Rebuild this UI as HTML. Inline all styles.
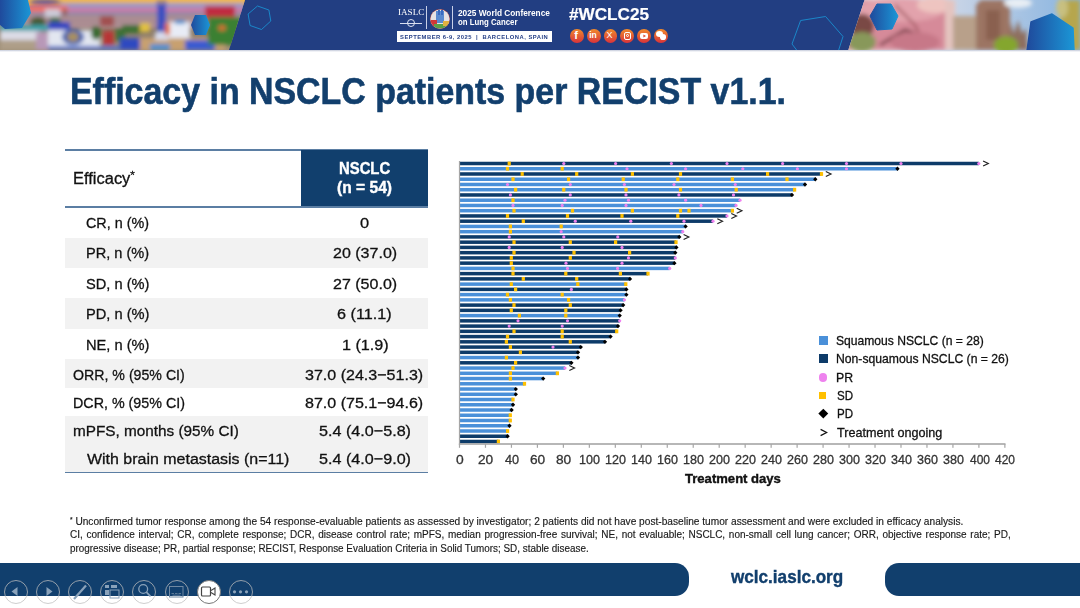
<!DOCTYPE html>
<html><head><meta charset="utf-8">
<style>
*{margin:0;padding:0;box-sizing:border-box}
html,body{width:1080px;height:608px;overflow:hidden;background:#fff}
body{position:relative;font-family:"Liberation Sans",sans-serif;color:#222}
.a{position:absolute;white-space:nowrap}
#hdr{position:absolute;left:0;top:0;width:1080px;height:50px;background:#223e82;overflow:hidden}
.title{left:72px;top:73.5px;font-size:36px;line-height:36px;font-weight:bold;color:#123f6d}
.tt{font-size:15px;line-height:15px;color:#222}
.band{position:absolute;left:65px;width:363px;background:#f2f2f2}
.hl{position:absolute;left:65px;width:363px;height:1.6px;background:#5b7ea3}
.val{width:140px;text-align:center;left:294.5px}
.leg{font-size:12.6px;line-height:12.6px;color:#222}
.ax{font-size:12.6px;line-height:12.6px;color:#333;width:40px;text-align:center}
.fn{font-size:9.8px;line-height:9.8px;color:#222}
</style></head><body>
<div id="hdr">
  <!-- left photo -->
  <svg style="position:absolute;left:0;top:0" width="1080" height="50">
   <defs>
    <clipPath id="cl"><polygon points="0,0 245,0 229,50 0,50"/></clipPath>
    <clipPath id="cr"><polygon points="864.5,0 1080,0 1080,50 848.3,50"/></clipPath>
    <filter id="bl" x="-5%" y="-20%" width="110%" height="140%"><feGaussianBlur stdDeviation="2.2"/></filter>
    <linearGradient id="hx" x1="0" x2="1" y1="0" y2="0"><stop offset="0" stop-color="#1f4a9c"/><stop offset="1" stop-color="#1b96d6"/></linearGradient>
    <linearGradient id="sky1" x1="0" x2="0" y1="0" y2="1"><stop offset="0" stop-color="#f2bb3e"/><stop offset="0.09" stop-color="#eeaa48"/><stop offset="0.14" stop-color="#8f80b4"/><stop offset="0.2" stop-color="#9c86b6"/><stop offset="0.24" stop-color="#e6708c"/><stop offset="0.27" stop-color="#d87898"/><stop offset="0.29" stop-color="#7d98c0"/><stop offset="0.32" stop-color="#b09aa4"/><stop offset="0.5" stop-color="#ae8e90"/><stop offset="0.62" stop-color="#8a7a68"/><stop offset="1" stop-color="#a09078"/></linearGradient>
    <linearGradient id="sky2" x1="0" x2="1" y1="0" y2="0"><stop offset="0" stop-color="#f0e6e0"/><stop offset="0.35" stop-color="#d8dce8"/><stop offset="1" stop-color="#88b4e0"/></linearGradient>
   </defs>
   <g clip-path="url(#cl)">
    <rect x="0" y="0" width="250" height="50" fill="url(#sky1)"/>
    <g filter="url(#bl)">
     <rect x="25" y="0" width="220" height="4" fill="#f2b850"/>
     <ellipse cx="45" cy="2" rx="16" ry="3" fill="#6a5a98"/>
     <rect x="60" y="3" width="185" height="6" fill="#9496c6"/>
     <rect x="28" y="6" width="40" height="6" fill="#f27060"/>
     <rect x="68" y="8" width="177" height="5" fill="#d478a0"/>
     <rect x="25" y="12" width="220" height="2.5" fill="#6888b8"/>
     <rect x="25" y="14" width="220" height="12" fill="#aa8c92"/>
     <rect x="45" y="9" width="15" height="8" fill="#cccad8"/>
     <rect x="63" y="9" width="4" height="7" fill="#906060"/>
     <rect x="100" y="16" width="14" height="10" fill="#a05050"/>
     <ellipse cx="38" cy="22" rx="8" ry="5" fill="#445a30"/>
     <ellipse cx="55" cy="21" rx="6" ry="4" fill="#3f6a34"/>
     <rect x="0" y="25" width="50" height="6" fill="#3aa0a8"/>
     <rect x="48" y="22" width="22" height="10" fill="#3444c0"/>
     <rect x="0" y="31" width="40" height="10" fill="#dcdce6"/>
     <rect x="0" y="40" width="36" height="10" fill="#ae9e88"/>
     <rect x="36" y="32" width="13" height="18" fill="#b898b8"/>
     <rect x="48" y="30" width="52" height="16" fill="#e2e6f0"/>
     <ellipse cx="73" cy="37" rx="11" ry="8" fill="#4060b0"/>
     <ellipse cx="73" cy="37" rx="6" ry="5" fill="#a89060"/>
     <rect x="48" y="46" width="80" height="4" fill="#5070c8"/>
     <ellipse cx="96" cy="33" rx="5" ry="7" fill="#3a6a30"/>
     <rect x="103" y="31" width="11" height="14" fill="#b83434"/>
     <rect x="115" y="29" width="10" height="12" fill="#3e7038"/>
     <rect x="122" y="25" width="20" height="8" fill="#3a7030"/>
     <rect x="140" y="23" width="10" height="9" fill="#e0c040"/>
     <rect x="120" y="38" width="22" height="12" fill="#2e48c0"/>
     <rect x="140" y="38" width="85" height="12" fill="#c8a070"/>
     <rect x="185" y="40" width="30" height="10" fill="#3a5ad0"/>
     <rect x="150" y="44" width="20" height="6" fill="#5090d0"/>
     <rect x="157" y="0" width="9" height="38" fill="#3a50c0"/>
     <rect x="159" y="0" width="5" height="4" fill="#b09060"/>
     <rect x="155" y="32" width="13" height="8" fill="#d8dcec"/>
     <rect x="168" y="22" width="22" height="16" fill="#e8ecf6"/>
     <rect x="175" y="20" width="10" height="4" fill="#4090d0"/>
     <rect x="165" y="23" width="5" height="12" fill="#e47030"/>
     <rect x="205" y="6" width="30" height="14" fill="#c02c40"/>
     <rect x="208" y="17" width="37" height="28" fill="#3a8030"/>
     <ellipse cx="222" cy="28" rx="4" ry="3" fill="#d07030"/>
    </g>
    <polygon points="0,0 28,0 31,13 22,28 5,29 0,25" fill="url(#hx)"/>
    <polygon points="195,15 206,15 210,25 206,35 195,35 191,25" fill="url(#hx)"/>
   </g>
   <polygon points="257.5,6 268.9,10 270.8,21 261.5,29.5 250.1,25.5 248.1,14" fill="none" stroke="#1a8fd0" stroke-width="0.9" stroke-linejoin="round"/>
   <polygon points="800.6,20.5 825.6,16.5 843,36.5 838.5,50.5 797,50.5 792,44" fill="none" stroke="#1a8fd0" stroke-width="0.9" stroke-linejoin="round"/>
      <g clip-path="url(#cr)">
    <rect x="840" y="0" width="240" height="50" fill="url(#sky2)"/>
    <g filter="url(#bl)">
     <rect x="840" y="0" width="108" height="50" fill="#d68a99"/>
     <ellipse cx="900" cy="10" rx="45" ry="12" fill="#e2a2ac"/>
     <ellipse cx="935" cy="5" rx="18" ry="8" fill="#eec4c0"/>
     <ellipse cx="862" cy="26" rx="12" ry="12" fill="#7a4a44"/>
     <ellipse cx="862" cy="42" rx="14" ry="10" fill="#88985a"/>
     <path d="M880 45 L905 30 L935 40" stroke="#7a4048" stroke-width="3" fill="none"/>
     <path d="M895 5 L915 25 L925 45" stroke="#9a5058" stroke-width="2" fill="none"/>
     <ellipse cx="915" cy="42" rx="25" ry="10" fill="#c77888"/>
     <rect x="945" y="0" width="10" height="50" fill="#e4c4c0"/>
     <rect x="953" y="16" width="24" height="34" fill="#b8a08a"/>
     <polygon points="976,50 976,5 981,0 1006,0 1010,8 1010,50" fill="#9c7464"/>
     <rect x="986" y="10" width="14" height="30" fill="#8a6050"/>
     <polygon points="1008,50 1011,22 1014,34 1018,20 1022,34 1026,28 1028,50" fill="#8e6e5e"/>
     <ellipse cx="1006" cy="45" rx="12" ry="9" fill="#84a62e"/>
     <ellipse cx="1018" cy="3" rx="14" ry="5" fill="#e8eef4"/>
     <rect x="1060" y="0" width="20" height="50" fill="#b6a64e"/>
     <ellipse cx="1062" cy="8" rx="6" ry="10" fill="#c8c080"/>
    </g>
    <polygon points="877,4 891,4 898,16 892,29 877,30 870,16" fill="url(#hx)" stroke="url(#hx)" stroke-width="1" stroke-linejoin="round"/>
    <polygon points="1031,22 1052,14 1073,28 1074,51 1027,51" fill="url(#hx)" stroke="url(#hx)" stroke-width="1.5" stroke-linejoin="round"/>
   </g>
  </svg>
  <!-- center logos -->
    <div style="position:absolute;left:426.3px;top:6px;width:1.2px;height:23px;background:#c8d0e8"></div>
  <svg style="position:absolute;left:429px;top:7.5px" width="22" height="22"><defs><clipPath id="cc"><circle cx="11" cy="11" r="9.6"/></clipPath></defs><circle cx="11" cy="11" r="10" fill="#b84a40"/><g clip-path="url(#cc)"><rect x="0" y="0" width="22" height="22" fill="#e6e2e4"/><rect x="7" y="3" width="8" height="12" fill="#5a8ad0"/><rect x="9" y="1" width="2" height="6" fill="#3a6ac0"/><rect x="12" y="2" width="2" height="5" fill="#3a6ac0"/><rect x="2" y="12" width="6" height="6" fill="#d03838"/><rect x="5" y="16" width="14" height="6" fill="#5aa048"/><rect x="14" y="13" width="6" height="5" fill="#e0b040"/></g></svg>
  <div style="position:absolute;left:452.3px;top:6px;width:1.2px;height:23px;background:#c8d0e8"></div>
  <div style="position:absolute;left:400px;top:22.5px;width:22px;height:1px;background:#d8dff0"></div>
  <div style="position:absolute;left:407px;top:19px;width:8px;height:8px;border-radius:50%;border:1px solid #e0e6f4"></div>
  <div style="position:absolute;left:397px;top:31.2px;width:155px;height:10.5px;background:#fff"></div>
<div class="a" style="left:397.69px;top:8.38px;font-family:'Liberation Serif',serif;font-size:9px;line-height:9px;font-weight:normal;color:#fff;transform-origin:0 0;transform:scaleX(1.0125);">IASLC</div>
<div class="a" style="left:457.50px;top:9.39px;font-family:'Liberation Sans',sans-serif;font-size:8.4px;line-height:8.4px;font-weight:bold;color:#fff;transform-origin:0 0;transform:scaleX(0.9882);">2025 World Conference</div>
<div class="a" style="left:457.50px;top:18.39px;font-family:'Liberation Sans',sans-serif;font-size:8.4px;line-height:8.4px;font-weight:bold;color:#fff;transform-origin:0 0;transform:scaleX(0.9328);">on Lung Cancer</div>
<div class="a" style="left:399.63px;top:33.62px;font-family:'Liberation Sans',sans-serif;font-size:6px;line-height:6px;font-weight:bold;color:#233e85;transform-origin:0 0;transform:scaleX(0.9735);letter-spacing:0.5px;">SEPTEMBER 6-9, 2025 &nbsp;|&nbsp; BARCELONA, SPAIN</div>
<div class="a" style="left:569.40px;top:6.85px;font-family:'Liberation Sans',sans-serif;font-size:16.6px;line-height:16.6px;font-weight:bold;color:#fff;transform-origin:0 0;transform:scaleX(1.0325);-webkit-text-stroke:0.2px #fff;">#WCLC25</div>
  <div style="position:absolute;left:570.0px;top:28.9px;width:13.8px;height:13.8px;border-radius:50%;background:linear-gradient(180deg,#f08a2c,#d8333a)"></div>
<div style="position:absolute;left:586.8px;top:28.9px;width:13.8px;height:13.8px;border-radius:50%;background:linear-gradient(180deg,#f08a2c,#d8333a)"></div>
<div style="position:absolute;left:603.6px;top:28.9px;width:13.8px;height:13.8px;border-radius:50%;background:linear-gradient(180deg,#f08a2c,#d8333a)"></div>
<div style="position:absolute;left:620.4px;top:28.9px;width:13.8px;height:13.8px;border-radius:50%;background:linear-gradient(180deg,#f08a2c,#d8333a)"></div>
<div style="position:absolute;left:637.2px;top:28.9px;width:13.8px;height:13.8px;border-radius:50%;background:linear-gradient(180deg,#f08a2c,#d8333a)"></div>
<div style="position:absolute;left:654.0px;top:28.9px;width:13.8px;height:13.8px;border-radius:50%;background:linear-gradient(180deg,#f08a2c,#d8333a)"></div>
<div class="a" style="left:574.3px;top:29.5px;font-size:11px;line-height:11px;font-weight:bold;color:#fff">f</div>
<div class="a" style="left:589.2px;top:31px;font-size:8.5px;line-height:8.5px;font-weight:bold;color:#fff">in</div>
<div class="a" style="left:606.6px;top:31px;font-size:9px;line-height:9px;color:#fff">X</div>
<div style="position:absolute;left:623.5px;top:32px;width:7.5px;height:7.5px;border:1.2px solid #fff;border-radius:2px"></div><div style="position:absolute;left:625.6px;top:34.1px;width:3.3px;height:3.3px;border:1px solid #fff;border-radius:50%"></div>
<div style="position:absolute;left:639.6px;top:32.6px;width:8.6px;height:6.2px;background:#fff;border-radius:2px"></div><svg style="position:absolute;left:639.6px;top:32.6px" width="9" height="7"><path d="M3.4 1.6L6 3.1L3.4 4.6z" fill="#e04a30"/></svg>
<div style="position:absolute;left:655.5px;top:31px;width:7px;height:6px;background:#fff;border-radius:50%"></div><div style="position:absolute;left:659.5px;top:34px;width:6.5px;height:5.5px;background:#fff;border-radius:50%"></div>
</div>

<div style="position:absolute;left:0;top:50px;width:1080px;height:2px;background:linear-gradient(180deg,rgba(40,60,120,0.28),rgba(40,60,120,0))"></div>
<div class="a" style="left:70.12px;top:73.73px;font-family:'Liberation Sans',sans-serif;font-size:36px;line-height:36px;font-weight:bold;color:#123f6d;transform-origin:0 0;transform:scaleX(0.9418);-webkit-text-stroke:0.6px #123f6d;">Efficacy in NSCLC patients per RECIST v1.1.</div>

<!-- table -->
<div class="hl" style="top:149.2px"></div>
<div style="position:absolute;left:301px;top:149.5px;width:127px;height:57.5px;background:#113f6d"></div>
<div class="hl" style="top:206.2px"></div>
<div class="band" style="top:237.5px;height:30.5px"></div>
<div class="band" style="top:298px;height:30.5px"></div>
<div class="band" style="top:359px;height:28.5px"></div>
<div class="band" style="top:416px;height:56px"></div>
<div class="hl" style="top:471.8px"></div>
<div class="a" style="left:72.94px;top:170.89px;font-family:'Liberation Sans',sans-serif;font-size:15.6px;line-height:15.6px;font-weight:normal;color:#111;transform-origin:0 0;transform:scaleX(1.0561);-webkit-text-stroke:0.3px #111;">Efficacy<span style="font-size:11px;position:relative;top:-5px">*</span></div>
<div class="a" style="left:339.07px;top:161.06px;font-family:'Liberation Sans',sans-serif;font-size:16px;line-height:16px;font-weight:bold;color:#fff;transform-origin:0 0;transform:scaleX(0.9283);-webkit-text-stroke:0.4px #fff;">NSCLC</div>
<div class="a" style="left:336.83px;top:179.56px;font-family:'Liberation Sans',sans-serif;font-size:16px;line-height:16px;font-weight:bold;color:#fff;transform-origin:0 0;transform:scaleX(0.9745);-webkit-text-stroke:0.4px #fff;">(n = 54)</div>
<div class="a" style="left:85.56px;top:214.85px;font-family:'Liberation Sans',sans-serif;font-size:15.3px;line-height:15.3px;font-weight:normal;color:#111;transform-origin:0 0;transform:scaleX(0.9385);-webkit-text-stroke:0.3px #111;">CR, n (%)</div>
<div class="a" style="left:85.55px;top:245.35px;font-family:'Liberation Sans',sans-serif;font-size:15.3px;line-height:15.3px;font-weight:normal;color:#111;transform-origin:0 0;transform:scaleX(0.9531);-webkit-text-stroke:0.3px #111;">PR, n (%)</div>
<div class="a" style="left:85.54px;top:275.95px;font-family:'Liberation Sans',sans-serif;font-size:15.3px;line-height:15.3px;font-weight:normal;color:#111;transform-origin:0 0;transform:scaleX(0.9562);-webkit-text-stroke:0.3px #111;">SD, n (%)</div>
<div class="a" style="left:85.64px;top:305.95px;font-family:'Liberation Sans',sans-serif;font-size:15.3px;line-height:15.3px;font-weight:normal;color:#111;transform-origin:0 0;transform:scaleX(0.9578);-webkit-text-stroke:0.3px #111;">PD, n (%)</div>
<div class="a" style="left:85.64px;top:336.55px;font-family:'Liberation Sans',sans-serif;font-size:15.3px;line-height:15.3px;font-weight:normal;color:#111;transform-origin:0 0;transform:scaleX(0.9578);-webkit-text-stroke:0.3px #111;">NE, n (%)</div>
<div class="a" style="left:72.67px;top:366.55px;font-family:'Liberation Sans',sans-serif;font-size:15.3px;line-height:15.3px;font-weight:normal;color:#111;transform-origin:0 0;transform:scaleX(0.9261);-webkit-text-stroke:0.3px #111;">ORR, % (95% CI)</div>
<div class="a" style="left:72.67px;top:394.95px;font-family:'Liberation Sans',sans-serif;font-size:15.3px;line-height:15.3px;font-weight:normal;color:#111;transform-origin:0 0;transform:scaleX(0.9339);-webkit-text-stroke:0.3px #111;">DCR, % (95% CI)</div>
<div class="a" style="left:72.60px;top:422.75px;font-family:'Liberation Sans',sans-serif;font-size:15.3px;line-height:15.3px;font-weight:normal;color:#111;transform-origin:0 0;transform:scaleX(1.0006);-webkit-text-stroke:0.3px #111;">mPFS, months (95% CI)</div>
<div class="a" style="left:86.60px;top:451.05px;font-family:'Liberation Sans',sans-serif;font-size:15.3px;line-height:15.3px;font-weight:normal;color:#111;transform-origin:0 0;transform:scaleX(1.0435);-webkit-text-stroke:0.3px #111;">With brain metastasis (n=11)</div>
<div class="a" style="left:359.83px;top:214.85px;font-family:'Liberation Sans',sans-serif;font-size:15.3px;line-height:15.3px;font-weight:normal;color:#111;transform-origin:0 0;transform:scaleX(1.0714);-webkit-text-stroke:0.3px #111;">0</div>
<div class="a" style="left:332.75px;top:245.35px;font-family:'Liberation Sans',sans-serif;font-size:15.3px;line-height:15.3px;font-weight:normal;color:#111;transform-origin:0 0;transform:scaleX(1.0475);-webkit-text-stroke:0.3px #111;">20 (37.0)</div>
<div class="a" style="left:332.75px;top:275.95px;font-family:'Liberation Sans',sans-serif;font-size:15.3px;line-height:15.3px;font-weight:normal;color:#111;transform-origin:0 0;transform:scaleX(1.0475);-webkit-text-stroke:0.3px #111;">27 (50.0)</div>
<div class="a" style="left:336.94px;top:305.95px;font-family:'Liberation Sans',sans-serif;font-size:15.3px;line-height:15.3px;font-weight:normal;color:#111;transform-origin:0 0;transform:scaleX(1.0580);-webkit-text-stroke:0.3px #111;">6 (11.1)</div>
<div class="a" style="left:341.54px;top:336.55px;font-family:'Liberation Sans',sans-serif;font-size:15.3px;line-height:15.3px;font-weight:normal;color:#111;transform-origin:0 0;transform:scaleX(1.0571);-webkit-text-stroke:0.3px #111;">1 (1.9)</div>
<div class="a" style="left:305.15px;top:366.55px;font-family:'Liberation Sans',sans-serif;font-size:15.3px;line-height:15.3px;font-weight:normal;color:#111;transform-origin:0 0;transform:scaleX(1.0486);-webkit-text-stroke:0.3px #111;">37.0 (24.3&minus;51.3)</div>
<div class="a" style="left:305.15px;top:394.95px;font-family:'Liberation Sans',sans-serif;font-size:15.3px;line-height:15.3px;font-weight:normal;color:#111;transform-origin:0 0;transform:scaleX(1.0486);-webkit-text-stroke:0.3px #111;">87.0 (75.1&minus;94.6)</div>
<div class="a" style="left:318.54px;top:422.75px;font-family:'Liberation Sans',sans-serif;font-size:15.3px;line-height:15.3px;font-weight:normal;color:#111;transform-origin:0 0;transform:scaleX(1.0553);-webkit-text-stroke:0.3px #111;">5.4 (4.0&minus;5.8)</div>
<div class="a" style="left:318.54px;top:451.05px;font-family:'Liberation Sans',sans-serif;font-size:15.3px;line-height:15.3px;font-weight:normal;color:#111;transform-origin:0 0;transform:scaleX(1.0553);-webkit-text-stroke:0.3px #111;">5.4 (4.0&minus;9.0)</div>

<!-- chart -->
<svg style="position:absolute;left:0;top:0" width="1080" height="608">
<rect x="459.4" y="161.75" width="519.4" height="3.5" fill="#0d3b69"/>
<rect x="459.4" y="167.00" width="438.1" height="3.5" fill="#4a90d9"/>
<rect x="459.4" y="172.24" width="362.1" height="3.5" fill="#0d3b69"/>
<rect x="459.4" y="177.49" width="355.9" height="3.5" fill="#4a90d9"/>
<rect x="459.4" y="182.73" width="345.6" height="3.5" fill="#4a90d9"/>
<rect x="459.4" y="187.97" width="335.2" height="3.5" fill="#4a90d9"/>
<rect x="459.4" y="193.22" width="332.6" height="3.5" fill="#0d3b69"/>
<rect x="459.4" y="198.47" width="280.6" height="3.5" fill="#4a90d9"/>
<rect x="459.4" y="203.71" width="276.6" height="3.5" fill="#4a90d9"/>
<rect x="459.4" y="208.95" width="273.0" height="3.5" fill="#4a90d9"/>
<rect x="459.4" y="214.20" width="267.6" height="3.5" fill="#0d3b69"/>
<rect x="459.4" y="219.44" width="253.6" height="3.5" fill="#0d3b69"/>
<rect x="459.4" y="224.69" width="226.2" height="3.5" fill="#4a90d9"/>
<rect x="459.4" y="229.94" width="223.4" height="3.5" fill="#4a90d9"/>
<rect x="459.4" y="235.18" width="219.9" height="3.5" fill="#0d3b69"/>
<rect x="459.4" y="240.43" width="216.6" height="3.5" fill="#0d3b69"/>
<rect x="459.4" y="245.67" width="217.0" height="3.5" fill="#0d3b69"/>
<rect x="459.4" y="250.92" width="215.9" height="3.5" fill="#0d3b69"/>
<rect x="459.4" y="256.16" width="215.9" height="3.5" fill="#0d3b69"/>
<rect x="459.4" y="261.40" width="215.0" height="3.5" fill="#0d3b69"/>
<rect x="459.4" y="266.65" width="210.3" height="3.5" fill="#4a90d9"/>
<rect x="459.4" y="271.89" width="188.6" height="3.5" fill="#0d3b69"/>
<rect x="459.4" y="277.14" width="170.6" height="3.5" fill="#0d3b69"/>
<rect x="459.4" y="282.38" width="166.4" height="3.5" fill="#4a90d9"/>
<rect x="459.4" y="287.63" width="167.0" height="3.5" fill="#0d3b69"/>
<rect x="459.4" y="292.88" width="167.0" height="3.5" fill="#4a90d9"/>
<rect x="459.4" y="298.12" width="165.0" height="3.5" fill="#4a90d9"/>
<rect x="459.4" y="303.37" width="163.8" height="3.5" fill="#0d3b69"/>
<rect x="459.4" y="308.61" width="161.2" height="3.5" fill="#0d3b69"/>
<rect x="459.4" y="313.86" width="160.3" height="3.5" fill="#4a90d9"/>
<rect x="459.4" y="319.10" width="160.3" height="3.5" fill="#0d3b69"/>
<rect x="459.4" y="324.35" width="158.6" height="3.5" fill="#0d3b69"/>
<rect x="459.4" y="329.59" width="157.3" height="3.5" fill="#0d3b69"/>
<rect x="459.4" y="334.84" width="151.2" height="3.5" fill="#0d3b69"/>
<rect x="459.4" y="340.08" width="145.6" height="3.5" fill="#0d3b69"/>
<rect x="459.4" y="345.33" width="121.4" height="3.5" fill="#0d3b69"/>
<rect x="459.4" y="350.57" width="118.6" height="3.5" fill="#0d3b69"/>
<rect x="459.4" y="355.81" width="118.6" height="3.5" fill="#4a90d9"/>
<rect x="459.4" y="361.06" width="112.0" height="3.5" fill="#0d3b69"/>
<rect x="459.4" y="366.31" width="105.6" height="3.5" fill="#4a90d9"/>
<rect x="459.4" y="371.55" width="98.0" height="3.5" fill="#4a90d9"/>
<rect x="459.4" y="376.80" width="83.8" height="3.5" fill="#4a90d9"/>
<rect x="459.4" y="382.04" width="65.1" height="3.5" fill="#4a90d9"/>
<rect x="459.4" y="387.28" width="56.4" height="3.5" fill="#4a90d9"/>
<rect x="459.4" y="392.53" width="56.4" height="3.5" fill="#4a90d9"/>
<rect x="459.4" y="397.77" width="53.6" height="3.5" fill="#4a90d9"/>
<rect x="459.4" y="403.02" width="53.6" height="3.5" fill="#4a90d9"/>
<rect x="459.4" y="408.26" width="52.2" height="3.5" fill="#4a90d9"/>
<rect x="459.4" y="413.51" width="50.9" height="3.5" fill="#4a90d9"/>
<rect x="459.4" y="418.75" width="50.9" height="3.5" fill="#4a90d9"/>
<rect x="459.4" y="424.00" width="50.1" height="3.5" fill="#4a90d9"/>
<rect x="459.4" y="429.25" width="48.2" height="3.5" fill="#4a90d9"/>
<rect x="459.4" y="434.49" width="48.2" height="3.5" fill="#0d3b69"/>
<rect x="459.4" y="439.74" width="39.0" height="3.5" fill="#0d3b69"/>
<rect x="507.60" y="161.60" width="3.2" height="3.8" fill="#ffc000"/>
<circle cx="563.8" cy="163.50" r="1.6" fill="#ee82ee"/>
<circle cx="615.6" cy="163.50" r="1.6" fill="#ee82ee"/>
<circle cx="671.4" cy="163.50" r="1.6" fill="#ee82ee"/>
<circle cx="727.0" cy="163.50" r="1.6" fill="#ee82ee"/>
<circle cx="782.6" cy="163.50" r="1.6" fill="#ee82ee"/>
<circle cx="846.5" cy="163.50" r="1.6" fill="#ee82ee"/>
<circle cx="901.0" cy="163.50" r="1.6" fill="#ee82ee"/>
<circle cx="978.8" cy="163.50" r="1.6" fill="#ee82ee"/>
<path d="M983.1 161.00l5.2 2.5l-5.2 2.5" fill="none" stroke="#222" stroke-width="1.2"/>
<rect x="505.90" y="166.84" width="3.2" height="3.8" fill="#ffc000"/>
<rect x="560.60" y="166.84" width="3.2" height="3.8" fill="#ffc000"/>
<circle cx="627.0" cy="168.75" r="1.6" fill="#ee82ee"/>
<circle cx="685.6" cy="168.75" r="1.6" fill="#ee82ee"/>
<circle cx="742.8" cy="168.75" r="1.6" fill="#ee82ee"/>
<circle cx="797.4" cy="168.75" r="1.6" fill="#ee82ee"/>
<circle cx="846.5" cy="168.75" r="1.6" fill="#ee82ee"/>
<path d="M897.5 166.59l2.15 2.15l-2.15 2.15l-2.15 -2.15z" fill="#000"/>
<rect x="520.60" y="172.09" width="3.2" height="3.8" fill="#ffc000"/>
<rect x="575.10" y="172.09" width="3.2" height="3.8" fill="#ffc000"/>
<rect x="630.80" y="172.09" width="3.2" height="3.8" fill="#ffc000"/>
<rect x="678.90" y="172.09" width="3.2" height="3.8" fill="#ffc000"/>
<rect x="766.00" y="172.09" width="3.2" height="3.8" fill="#ffc000"/>
<rect x="819.90" y="172.09" width="3.2" height="3.8" fill="#ffc000"/>
<path d="M825.8 171.49l5.2 2.5l-5.2 2.5" fill="none" stroke="#222" stroke-width="1.2"/>
<rect x="511.40" y="177.34" width="3.2" height="3.8" fill="#ffc000"/>
<rect x="567.00" y="177.34" width="3.2" height="3.8" fill="#ffc000"/>
<rect x="621.60" y="177.34" width="3.2" height="3.8" fill="#ffc000"/>
<rect x="676.20" y="177.34" width="3.2" height="3.8" fill="#ffc000"/>
<rect x="730.80" y="177.34" width="3.2" height="3.8" fill="#ffc000"/>
<rect x="785.40" y="177.34" width="3.2" height="3.8" fill="#ffc000"/>
<path d="M815.3 177.09l2.15 2.15l-2.15 2.15l-2.15 -2.15z" fill="#000"/>
<circle cx="507.5" cy="184.48" r="1.6" fill="#ee82ee"/>
<circle cx="570.3" cy="184.48" r="1.6" fill="#ee82ee"/>
<circle cx="624.4" cy="184.48" r="1.6" fill="#ee82ee"/>
<circle cx="674.0" cy="184.48" r="1.6" fill="#ee82ee"/>
<circle cx="735.3" cy="184.48" r="1.6" fill="#ee82ee"/>
<path d="M805.0 182.33l2.15 2.15l-2.15 2.15l-2.15 -2.15z" fill="#000"/>
<rect x="514.00" y="187.82" width="3.2" height="3.8" fill="#ffc000"/>
<rect x="562.15" y="187.82" width="3.2" height="3.8" fill="#ffc000"/>
<rect x="624.40" y="187.82" width="3.2" height="3.8" fill="#ffc000"/>
<rect x="678.90" y="187.82" width="3.2" height="3.8" fill="#ffc000"/>
<rect x="734.60" y="187.82" width="3.2" height="3.8" fill="#ffc000"/>
<rect x="793.00" y="187.82" width="3.2" height="3.8" fill="#ffc000"/>
<circle cx="510.4" cy="194.97" r="1.6" fill="#ee82ee"/>
<circle cx="570.3" cy="194.97" r="1.6" fill="#ee82ee"/>
<circle cx="626.0" cy="194.97" r="1.6" fill="#ee82ee"/>
<circle cx="678.9" cy="194.97" r="1.6" fill="#ee82ee"/>
<circle cx="733.5" cy="194.97" r="1.6" fill="#ee82ee"/>
<path d="M792.0 192.82l2.15 2.15l-2.15 2.15l-2.15 -2.15z" fill="#000"/>
<rect x="511.40" y="198.31" width="3.2" height="3.8" fill="#ffc000"/>
<circle cx="565.0" cy="200.22" r="1.6" fill="#ee82ee"/>
<circle cx="628.5" cy="200.22" r="1.6" fill="#ee82ee"/>
<circle cx="685.6" cy="200.22" r="1.6" fill="#ee82ee"/>
<circle cx="740.0" cy="200.22" r="1.6" fill="#ee82ee"/>
<circle cx="513.0" cy="205.46" r="1.6" fill="#ee82ee"/>
<circle cx="562.2" cy="205.46" r="1.6" fill="#ee82ee"/>
<circle cx="626.0" cy="205.46" r="1.6" fill="#ee82ee"/>
<circle cx="701.0" cy="205.46" r="1.6" fill="#ee82ee"/>
<circle cx="736.0" cy="205.46" r="1.6" fill="#ee82ee"/>
<rect x="512.40" y="208.80" width="3.2" height="3.8" fill="#ffc000"/>
<rect x="570.90" y="208.80" width="3.2" height="3.8" fill="#ffc000"/>
<rect x="630.80" y="208.80" width="3.2" height="3.8" fill="#ffc000"/>
<rect x="678.90" y="208.80" width="3.2" height="3.8" fill="#ffc000"/>
<rect x="687.40" y="208.80" width="3.2" height="3.8" fill="#ffc000"/>
<rect x="730.80" y="208.80" width="3.2" height="3.8" fill="#ffc000"/>
<path d="M736.7 208.20l5.2 2.5l-5.2 2.5" fill="none" stroke="#222" stroke-width="1.2"/>
<rect x="505.90" y="214.05" width="3.2" height="3.8" fill="#ffc000"/>
<rect x="565.90" y="214.05" width="3.2" height="3.8" fill="#ffc000"/>
<rect x="620.40" y="214.05" width="3.2" height="3.8" fill="#ffc000"/>
<rect x="676.20" y="214.05" width="3.2" height="3.8" fill="#ffc000"/>
<circle cx="727.0" cy="215.95" r="1.6" fill="#ee82ee"/>
<path d="M731.3 213.45l5.2 2.5l-5.2 2.5" fill="none" stroke="#222" stroke-width="1.2"/>
<rect x="521.70" y="219.29" width="3.2" height="3.8" fill="#ffc000"/>
<circle cx="575.3" cy="221.19" r="1.6" fill="#ee82ee"/>
<circle cx="630.8" cy="221.19" r="1.6" fill="#ee82ee"/>
<circle cx="684.0" cy="221.19" r="1.6" fill="#ee82ee"/>
<circle cx="713.0" cy="221.19" r="1.6" fill="#ee82ee"/>
<path d="M717.3 218.69l5.2 2.5l-5.2 2.5" fill="none" stroke="#222" stroke-width="1.2"/>
<rect x="508.80" y="224.54" width="3.2" height="3.8" fill="#ffc000"/>
<rect x="559.60" y="224.54" width="3.2" height="3.8" fill="#ffc000"/>
<path d="M685.6 224.29l2.15 2.15l-2.15 2.15l-2.15 -2.15z" fill="#000"/>
<rect x="508.80" y="229.78" width="3.2" height="3.8" fill="#ffc000"/>
<circle cx="561.2" cy="231.69" r="1.6" fill="#ee82ee"/>
<circle cx="682.8" cy="231.69" r="1.6" fill="#ee82ee"/>
<circle cx="509.2" cy="236.93" r="1.6" fill="#ee82ee"/>
<circle cx="563.8" cy="236.93" r="1.6" fill="#ee82ee"/>
<circle cx="617.8" cy="236.93" r="1.6" fill="#ee82ee"/>
<path d="M679.3 234.78l2.15 2.15l-2.15 2.15l-2.15 -2.15z" fill="#000"/>
<path d="M683.6 234.43l5.2 2.5l-5.2 2.5" fill="none" stroke="#222" stroke-width="1.2"/>
<rect x="512.40" y="240.28" width="3.2" height="3.8" fill="#ffc000"/>
<rect x="568.70" y="240.28" width="3.2" height="3.8" fill="#ffc000"/>
<rect x="614.00" y="240.28" width="3.2" height="3.8" fill="#ffc000"/>
<rect x="674.40" y="240.28" width="3.2" height="3.8" fill="#ffc000"/>
<circle cx="509.2" cy="247.42" r="1.6" fill="#ee82ee"/>
<circle cx="562.2" cy="247.42" r="1.6" fill="#ee82ee"/>
<circle cx="622.0" cy="247.42" r="1.6" fill="#ee82ee"/>
<path d="M676.4 245.27l2.15 2.15l-2.15 2.15l-2.15 -2.15z" fill="#000"/>
<rect x="512.40" y="250.77" width="3.2" height="3.8" fill="#ffc000"/>
<rect x="572.40" y="250.77" width="3.2" height="3.8" fill="#ffc000"/>
<rect x="628.00" y="250.77" width="3.2" height="3.8" fill="#ffc000"/>
<path d="M675.3 250.52l2.15 2.15l-2.15 2.15l-2.15 -2.15z" fill="#000"/>
<rect x="509.70" y="256.01" width="3.2" height="3.8" fill="#ffc000"/>
<rect x="568.70" y="256.01" width="3.2" height="3.8" fill="#ffc000"/>
<circle cx="628.5" cy="257.91" r="1.6" fill="#ee82ee"/>
<circle cx="675.3" cy="257.91" r="1.6" fill="#ee82ee"/>
<rect x="509.70" y="261.25" width="3.2" height="3.8" fill="#ffc000"/>
<circle cx="566.0" cy="263.15" r="1.6" fill="#ee82ee"/>
<circle cx="622.0" cy="263.15" r="1.6" fill="#ee82ee"/>
<path d="M674.4 261.00l2.15 2.15l-2.15 2.15l-2.15 -2.15z" fill="#000"/>
<rect x="511.40" y="266.50" width="3.2" height="3.8" fill="#ffc000"/>
<circle cx="567.5" cy="268.40" r="1.6" fill="#ee82ee"/>
<circle cx="617.6" cy="268.40" r="1.6" fill="#ee82ee"/>
<circle cx="669.7" cy="268.40" r="1.6" fill="#ee82ee"/>
<rect x="511.40" y="271.75" width="3.2" height="3.8" fill="#ffc000"/>
<rect x="564.20" y="271.75" width="3.2" height="3.8" fill="#ffc000"/>
<rect x="618.80" y="271.75" width="3.2" height="3.8" fill="#ffc000"/>
<rect x="646.40" y="271.75" width="3.2" height="3.8" fill="#ffc000"/>
<rect x="521.70" y="276.99" width="3.2" height="3.8" fill="#ffc000"/>
<rect x="575.10" y="276.99" width="3.2" height="3.8" fill="#ffc000"/>
<path d="M630.0 276.74l2.15 2.15l-2.15 2.15l-2.15 -2.15z" fill="#000"/>
<rect x="509.70" y="282.24" width="3.2" height="3.8" fill="#ffc000"/>
<rect x="576.20" y="282.24" width="3.2" height="3.8" fill="#ffc000"/>
<rect x="624.20" y="282.24" width="3.2" height="3.8" fill="#ffc000"/>
<rect x="514.00" y="287.48" width="3.2" height="3.8" fill="#ffc000"/>
<circle cx="571.4" cy="289.38" r="1.6" fill="#ee82ee"/>
<path d="M626.4 287.23l2.15 2.15l-2.15 2.15l-2.15 -2.15z" fill="#000"/>
<rect x="505.90" y="292.73" width="3.2" height="3.8" fill="#ffc000"/>
<rect x="560.60" y="292.73" width="3.2" height="3.8" fill="#ffc000"/>
<path d="M626.4 292.48l2.15 2.15l-2.15 2.15l-2.15 -2.15z" fill="#000"/>
<rect x="508.80" y="297.97" width="3.2" height="3.8" fill="#ffc000"/>
<rect x="567.00" y="297.97" width="3.2" height="3.8" fill="#ffc000"/>
<circle cx="624.4" cy="299.87" r="1.6" fill="#ee82ee"/>
<rect x="512.40" y="303.22" width="3.2" height="3.8" fill="#ffc000"/>
<rect x="568.70" y="303.22" width="3.2" height="3.8" fill="#ffc000"/>
<path d="M623.2 302.97l2.15 2.15l-2.15 2.15l-2.15 -2.15z" fill="#000"/>
<rect x="509.70" y="308.46" width="3.2" height="3.8" fill="#ffc000"/>
<rect x="564.20" y="308.46" width="3.2" height="3.8" fill="#ffc000"/>
<path d="M620.6 308.21l2.15 2.15l-2.15 2.15l-2.15 -2.15z" fill="#000"/>
<rect x="517.80" y="313.71" width="3.2" height="3.8" fill="#ffc000"/>
<rect x="564.20" y="313.71" width="3.2" height="3.8" fill="#ffc000"/>
<path d="M619.7 313.46l2.15 2.15l-2.15 2.15l-2.15 -2.15z" fill="#000"/>
<circle cx="518.0" cy="320.85" r="1.6" fill="#ee82ee"/>
<circle cx="567.5" cy="320.85" r="1.6" fill="#ee82ee"/>
<circle cx="619.7" cy="320.85" r="1.6" fill="#ee82ee"/>
<circle cx="509.2" cy="326.10" r="1.6" fill="#ee82ee"/>
<circle cx="562.2" cy="326.10" r="1.6" fill="#ee82ee"/>
<path d="M618.0 323.95l2.15 2.15l-2.15 2.15l-2.15 -2.15z" fill="#000"/>
<rect x="512.40" y="329.44" width="3.2" height="3.8" fill="#ffc000"/>
<rect x="560.60" y="329.44" width="3.2" height="3.8" fill="#ffc000"/>
<rect x="615.10" y="329.44" width="3.2" height="3.8" fill="#ffc000"/>
<rect x="505.90" y="334.69" width="3.2" height="3.8" fill="#ffc000"/>
<rect x="560.60" y="334.69" width="3.2" height="3.8" fill="#ffc000"/>
<path d="M610.6 334.44l2.15 2.15l-2.15 2.15l-2.15 -2.15z" fill="#000"/>
<rect x="504.80" y="339.93" width="3.2" height="3.8" fill="#ffc000"/>
<rect x="568.70" y="339.93" width="3.2" height="3.8" fill="#ffc000"/>
<path d="M605.0 339.68l2.15 2.15l-2.15 2.15l-2.15 -2.15z" fill="#000"/>
<rect x="508.80" y="345.18" width="3.2" height="3.8" fill="#ffc000"/>
<circle cx="553.0" cy="347.08" r="1.6" fill="#ee82ee"/>
<path d="M580.8 344.93l2.15 2.15l-2.15 2.15l-2.15 -2.15z" fill="#000"/>
<rect x="518.80" y="350.42" width="3.2" height="3.8" fill="#ffc000"/>
<path d="M578.0 350.17l2.15 2.15l-2.15 2.15l-2.15 -2.15z" fill="#000"/>
<rect x="504.80" y="355.67" width="3.2" height="3.8" fill="#ffc000"/>
<path d="M578.0 355.42l2.15 2.15l-2.15 2.15l-2.15 -2.15z" fill="#000"/>
<rect x="514.00" y="360.91" width="3.2" height="3.8" fill="#ffc000"/>
<path d="M571.4 360.66l2.15 2.15l-2.15 2.15l-2.15 -2.15z" fill="#000"/>
<rect x="511.40" y="366.16" width="3.2" height="3.8" fill="#ffc000"/>
<circle cx="565.0" cy="368.06" r="1.6" fill="#ee82ee"/>
<path d="M569.3 365.56l5.2 2.5l-5.2 2.5" fill="none" stroke="#222" stroke-width="1.2"/>
<rect x="508.80" y="371.40" width="3.2" height="3.8" fill="#ffc000"/>
<rect x="555.80" y="371.40" width="3.2" height="3.8" fill="#ffc000"/>
<rect x="508.80" y="376.65" width="3.2" height="3.8" fill="#ffc000"/>
<path d="M543.2 376.40l2.15 2.15l-2.15 2.15l-2.15 -2.15z" fill="#000"/>
<rect x="522.90" y="381.89" width="3.2" height="3.8" fill="#ffc000"/>
<path d="M515.8 386.88l2.15 2.15l-2.15 2.15l-2.15 -2.15z" fill="#000"/>
<path d="M515.8 392.13l2.15 2.15l-2.15 2.15l-2.15 -2.15z" fill="#000"/>
<rect x="511.40" y="397.62" width="3.2" height="3.8" fill="#ffc000"/>
<path d="M513.0 402.62l2.15 2.15l-2.15 2.15l-2.15 -2.15z" fill="#000"/>
<path d="M511.6 407.87l2.15 2.15l-2.15 2.15l-2.15 -2.15z" fill="#000"/>
<rect x="508.70" y="413.36" width="3.2" height="3.8" fill="#ffc000"/>
<rect x="508.70" y="418.61" width="3.2" height="3.8" fill="#ffc000"/>
<path d="M509.5 423.60l2.15 2.15l-2.15 2.15l-2.15 -2.15z" fill="#000"/>
<rect x="506.00" y="429.10" width="3.2" height="3.8" fill="#ffc000"/>
<path d="M507.6 434.09l2.15 2.15l-2.15 2.15l-2.15 -2.15z" fill="#000"/>
<rect x="496.80" y="439.59" width="3.2" height="3.8" fill="#ffc000"/>
<rect x="458.9" y="161" width="1.2" height="284" fill="#a6a6a6"/>
<rect x="458.9" y="443.2" width="546.6" height="1.6" fill="#a6a6a6"/>
<rect x="458.90" y="444" width="1.2" height="3.8" fill="#a6a6a6"/>
<rect x="484.87" y="444" width="1.2" height="3.8" fill="#a6a6a6"/>
<rect x="510.84" y="444" width="1.2" height="3.8" fill="#a6a6a6"/>
<rect x="536.81" y="444" width="1.2" height="3.8" fill="#a6a6a6"/>
<rect x="562.78" y="444" width="1.2" height="3.8" fill="#a6a6a6"/>
<rect x="588.75" y="444" width="1.2" height="3.8" fill="#a6a6a6"/>
<rect x="614.72" y="444" width="1.2" height="3.8" fill="#a6a6a6"/>
<rect x="640.69" y="444" width="1.2" height="3.8" fill="#a6a6a6"/>
<rect x="666.66" y="444" width="1.2" height="3.8" fill="#a6a6a6"/>
<rect x="692.63" y="444" width="1.2" height="3.8" fill="#a6a6a6"/>
<rect x="718.60" y="444" width="1.2" height="3.8" fill="#a6a6a6"/>
<rect x="744.57" y="444" width="1.2" height="3.8" fill="#a6a6a6"/>
<rect x="770.54" y="444" width="1.2" height="3.8" fill="#a6a6a6"/>
<rect x="796.51" y="444" width="1.2" height="3.8" fill="#a6a6a6"/>
<rect x="822.48" y="444" width="1.2" height="3.8" fill="#a6a6a6"/>
<rect x="848.45" y="444" width="1.2" height="3.8" fill="#a6a6a6"/>
<rect x="874.42" y="444" width="1.2" height="3.8" fill="#a6a6a6"/>
<rect x="900.39" y="444" width="1.2" height="3.8" fill="#a6a6a6"/>
<rect x="926.36" y="444" width="1.2" height="3.8" fill="#a6a6a6"/>
<rect x="952.33" y="444" width="1.2" height="3.8" fill="#a6a6a6"/>
<rect x="978.30" y="444" width="1.2" height="3.8" fill="#a6a6a6"/>
<rect x="1004.27" y="444" width="1.2" height="3.8" fill="#a6a6a6"/>
</svg>
<div class="a" style="left:455.90px;top:453.03px;font-family:'Liberation Sans',sans-serif;font-size:13.2px;line-height:13.2px;font-weight:normal;color:#333;transform-origin:0 0;transform:scaleX(1.0500);-webkit-text-stroke:0.3px #333;">0</div>
<div class="a" style="left:478.28px;top:453.03px;font-family:'Liberation Sans',sans-serif;font-size:13.2px;line-height:13.2px;font-weight:normal;color:#333;transform-origin:0 0;transform:scaleX(1.0385);-webkit-text-stroke:0.3px #333;">20</div>
<div class="a" style="left:505.29px;top:453.03px;font-family:'Liberation Sans',sans-serif;font-size:13.2px;line-height:13.2px;font-weight:normal;color:#333;transform-origin:0 0;transform:scaleX(0.9643);-webkit-text-stroke:0.3px #333;">40</div>
<div class="a" style="left:530.22px;top:453.03px;font-family:'Liberation Sans',sans-serif;font-size:13.2px;line-height:13.2px;font-weight:normal;color:#333;transform-origin:0 0;transform:scaleX(1.0385);-webkit-text-stroke:0.3px #333;">60</div>
<div class="a" style="left:556.19px;top:453.03px;font-family:'Liberation Sans',sans-serif;font-size:13.2px;line-height:13.2px;font-weight:normal;color:#333;transform-origin:0 0;transform:scaleX(1.0385);-webkit-text-stroke:0.3px #333;">80</div>
<div class="a" style="left:579.00px;top:453.03px;font-family:'Liberation Sans',sans-serif;font-size:13.2px;line-height:13.2px;font-weight:normal;color:#333;transform-origin:0 0;transform:scaleX(0.9524);-webkit-text-stroke:0.3px #333;">100</div>
<div class="a" style="left:604.97px;top:453.03px;font-family:'Liberation Sans',sans-serif;font-size:13.2px;line-height:13.2px;font-weight:normal;color:#333;transform-origin:0 0;transform:scaleX(0.9524);-webkit-text-stroke:0.3px #333;">120</div>
<div class="a" style="left:630.94px;top:453.03px;font-family:'Liberation Sans',sans-serif;font-size:13.2px;line-height:13.2px;font-weight:normal;color:#333;transform-origin:0 0;transform:scaleX(0.9524);-webkit-text-stroke:0.3px #333;">140</div>
<div class="a" style="left:656.91px;top:453.03px;font-family:'Liberation Sans',sans-serif;font-size:13.2px;line-height:13.2px;font-weight:normal;color:#333;transform-origin:0 0;transform:scaleX(0.9524);-webkit-text-stroke:0.3px #333;">160</div>
<div class="a" style="left:682.88px;top:453.03px;font-family:'Liberation Sans',sans-serif;font-size:13.2px;line-height:13.2px;font-weight:normal;color:#333;transform-origin:0 0;transform:scaleX(0.9524);-webkit-text-stroke:0.3px #333;">180</div>
<div class="a" style="left:708.85px;top:453.03px;font-family:'Liberation Sans',sans-serif;font-size:13.2px;line-height:13.2px;font-weight:normal;color:#333;transform-origin:0 0;transform:scaleX(0.9524);-webkit-text-stroke:0.3px #333;">200</div>
<div class="a" style="left:734.82px;top:453.03px;font-family:'Liberation Sans',sans-serif;font-size:13.2px;line-height:13.2px;font-weight:normal;color:#333;transform-origin:0 0;transform:scaleX(0.9524);-webkit-text-stroke:0.3px #333;">220</div>
<div class="a" style="left:760.79px;top:453.03px;font-family:'Liberation Sans',sans-serif;font-size:13.2px;line-height:13.2px;font-weight:normal;color:#333;transform-origin:0 0;transform:scaleX(0.9524);-webkit-text-stroke:0.3px #333;">240</div>
<div class="a" style="left:786.76px;top:453.03px;font-family:'Liberation Sans',sans-serif;font-size:13.2px;line-height:13.2px;font-weight:normal;color:#333;transform-origin:0 0;transform:scaleX(0.9524);-webkit-text-stroke:0.3px #333;">260</div>
<div class="a" style="left:812.73px;top:453.03px;font-family:'Liberation Sans',sans-serif;font-size:13.2px;line-height:13.2px;font-weight:normal;color:#333;transform-origin:0 0;transform:scaleX(0.9524);-webkit-text-stroke:0.3px #333;">280</div>
<div class="a" style="left:838.70px;top:453.03px;font-family:'Liberation Sans',sans-serif;font-size:13.2px;line-height:13.2px;font-weight:normal;color:#333;transform-origin:0 0;transform:scaleX(0.9524);-webkit-text-stroke:0.3px #333;">300</div>
<div class="a" style="left:864.67px;top:453.03px;font-family:'Liberation Sans',sans-serif;font-size:13.2px;line-height:13.2px;font-weight:normal;color:#333;transform-origin:0 0;transform:scaleX(0.9524);-webkit-text-stroke:0.3px #333;">320</div>
<div class="a" style="left:890.64px;top:453.03px;font-family:'Liberation Sans',sans-serif;font-size:13.2px;line-height:13.2px;font-weight:normal;color:#333;transform-origin:0 0;transform:scaleX(0.9524);-webkit-text-stroke:0.3px #333;">340</div>
<div class="a" style="left:916.61px;top:453.03px;font-family:'Liberation Sans',sans-serif;font-size:13.2px;line-height:13.2px;font-weight:normal;color:#333;transform-origin:0 0;transform:scaleX(0.9524);-webkit-text-stroke:0.3px #333;">360</div>
<div class="a" style="left:942.58px;top:453.03px;font-family:'Liberation Sans',sans-serif;font-size:13.2px;line-height:13.2px;font-weight:normal;color:#333;transform-origin:0 0;transform:scaleX(0.9524);-webkit-text-stroke:0.3px #333;">380</div>
<div class="a" style="left:969.50px;top:453.03px;font-family:'Liberation Sans',sans-serif;font-size:13.2px;line-height:13.2px;font-weight:normal;color:#333;transform-origin:0 0;transform:scaleX(0.9091);-webkit-text-stroke:0.3px #333;">400</div>
<div class="a" style="left:995.47px;top:453.03px;font-family:'Liberation Sans',sans-serif;font-size:13.2px;line-height:13.2px;font-weight:normal;color:#333;transform-origin:0 0;transform:scaleX(0.9091);-webkit-text-stroke:0.3px #333;">420</div>
<div class="a" style="left:684.50px;top:472.30px;font-family:'Liberation Sans',sans-serif;font-size:13px;line-height:13px;font-weight:bold;color:#111;transform-origin:0 0;transform:scaleX(1.0053);-webkit-text-stroke:0.4px #111;">Treatment days</div>
<div style="position:absolute;left:819px;top:335.8px;width:9px;height:9px;background:#4a90d9"></div>
<div style="position:absolute;left:819px;top:354.0px;width:9px;height:9px;background:#0d3b69"></div>
<div style="position:absolute;left:818.5px;top:373.0px;width:8.6px;height:8.6px;border-radius:50%;background:#ee82ee"></div>
<div style="position:absolute;left:819.2px;top:391.8px;width:7.3px;height:7.1px;background:#ffc000"></div>
<div style="position:absolute;left:819.7px;top:410.3px;width:6.6px;height:6.6px;transform:rotate(45deg);background:#000"></div>
<svg style="position:absolute;left:819px;top:428.3px" width="10" height="9"><path d="M1.6 1.4L7.6 4.5L1.6 7.6" fill="none" stroke="#111" stroke-width="1.25"/></svg>
<div class="a" style="left:836.48px;top:333.81px;font-family:'Liberation Sans',sans-serif;font-size:13.1px;line-height:13.1px;font-weight:normal;color:#111;transform-origin:0 0;transform:scaleX(0.9247);-webkit-text-stroke:0.3px #111;">Squamous NSCLC (n = 28)</div>
<div class="a" style="left:836.47px;top:352.01px;font-family:'Liberation Sans',sans-serif;font-size:13.1px;line-height:13.1px;font-weight:normal;color:#111;transform-origin:0 0;transform:scaleX(0.9299);-webkit-text-stroke:0.3px #111;">Non-squamous NSCLC (n = 26)</div>
<div class="a" style="left:836.46px;top:370.81px;font-family:'Liberation Sans',sans-serif;font-size:13.1px;line-height:13.1px;font-weight:normal;color:#111;transform-origin:0 0;transform:scaleX(0.9375);-webkit-text-stroke:0.3px #111;">PR</div>
<div class="a" style="left:836.52px;top:388.91px;font-family:'Liberation Sans',sans-serif;font-size:13.1px;line-height:13.1px;font-weight:normal;color:#111;transform-origin:0 0;transform:scaleX(0.8824);-webkit-text-stroke:0.3px #111;">SD</div>
<div class="a" style="left:836.52px;top:407.11px;font-family:'Liberation Sans',sans-serif;font-size:13.1px;line-height:13.1px;font-weight:normal;color:#111;transform-origin:0 0;transform:scaleX(0.8824);-webkit-text-stroke:0.3px #111;">PD</div>
<div class="a" style="left:837.40px;top:425.81px;font-family:'Liberation Sans',sans-serif;font-size:13.1px;line-height:13.1px;font-weight:normal;color:#111;transform-origin:0 0;transform:scaleX(0.9615);-webkit-text-stroke:0.3px #111;">Treatment ongoing</div>

<div class="a" style="left:69.58px;top:516.74px;font-family:'Liberation Sans',sans-serif;font-size:10px;line-height:10px;font-weight:normal;color:#1a1a1a;transform-origin:0 0;transform:scaleX(1.0151);-webkit-text-stroke:0.15px #1a1a1a;"><span style="font-size:6.5px;position:relative;top:-3px">*</span> Unconfirmed tumor response among the 54 response-evaluable patients as assessed by investigator; 2 patients did not have post-baseline tumor assessment and were excluded in efficacy analysis.</div>
<div class="a" style="left:69.60px;top:530.24px;font-family:'Liberation Sans',sans-serif;font-size:10px;line-height:10px;font-weight:normal;color:#1a1a1a;transform-origin:0 0;transform:scaleX(0.9989);-webkit-text-stroke:0.15px #1a1a1a;word-spacing:0.95px;">CI, confidence interval; CR, complete response; DCR, disease control rate; mPFS, median progression-free survival; NE, not evaluable; NSCLC, non-small cell lung cancer; ORR, objective response rate; PD,</div>
<div class="a" style="left:69.61px;top:544.13px;font-family:'Liberation Sans',sans-serif;font-size:10px;line-height:10px;font-weight:normal;color:#1a1a1a;transform-origin:0 0;transform:scaleX(0.9885);-webkit-text-stroke:0.15px #1a1a1a;">progressive disease; PR, partial response; RECIST, Response Evaluation Criteria in Solid Tumors; SD, stable disease.</div>

<!-- footer -->
<div style="position:absolute;left:0;top:563px;width:689px;height:33px;background:#113f6d;border-radius:0 14px 14px 0"></div>
<div style="position:absolute;left:885px;top:562.5px;width:195px;height:33px;background:#113f6d;border-radius:14px 0 0 14px"></div>
<div class="a" style="left:731.00px;top:567.94px;font-family:'Liberation Sans',sans-serif;font-size:18.5px;line-height:18.5px;font-weight:bold;color:#123f6d;transform-origin:0 0;transform:scaleX(0.9250);-webkit-text-stroke:0.4px #123f6d;">wclc.iaslc.org</div>
<div style="position:absolute;left:4.0px;top:579.5px;width:24px;height:24px;border-radius:50%;border:1px solid rgba(190,190,190,0.75)"></div>
<div style="position:absolute;left:36.1px;top:579.5px;width:24px;height:24px;border-radius:50%;border:1px solid rgba(190,190,190,0.75)"></div>
<div style="position:absolute;left:68.2px;top:579.5px;width:24px;height:24px;border-radius:50%;border:1px solid rgba(190,190,190,0.75)"></div>
<div style="position:absolute;left:100.3px;top:579.5px;width:24px;height:24px;border-radius:50%;border:1px solid rgba(190,190,190,0.75)"></div>
<div style="position:absolute;left:132.4px;top:579.5px;width:24px;height:24px;border-radius:50%;border:1px solid rgba(190,190,190,0.75)"></div>
<div style="position:absolute;left:164.5px;top:579.5px;width:24px;height:24px;border-radius:50%;border:1px solid rgba(190,190,190,0.75)"></div>
<div style="position:absolute;left:196.6px;top:579.5px;width:24px;height:24px;border-radius:50%;background:#fff;border:1px solid #777"></div>
<div style="position:absolute;left:228.7px;top:579.5px;width:24px;height:24px;border-radius:50%;border:1px solid rgba(190,190,190,0.75)"></div>
<svg style="position:absolute;left:0;top:570px" width="270" height="38"><path d="M11.5 21.5L17.5 17v9z" fill="#8aa2ba"/><path d="M52.5 21.5L46.5 17v9z" fill="#8aa2ba"/><path d="M74 29L86 15.5" stroke="#8aa2ba" stroke-width="2.2"/><rect x="105" y="15" width="4" height="3" fill="#8aa2ba"/><rect x="111" y="15" width="6" height="3" fill="#8aa2ba"/><rect x="105" y="20" width="4" height="5" fill="#8aa2ba"/><rect x="110" y="20" width="9" height="8" fill="none" stroke="#8aa2ba" stroke-width="1"/><circle cx="143.2" cy="19" r="4.4" fill="none" stroke="#8aa2ba" stroke-width="1.3"/><path d="M146.4 22.2L150.5 26.3" stroke="#8aa2ba" stroke-width="1.7"/><rect x="169.5" y="16.5" width="13.5" height="10.5" fill="none" stroke="#6f88a2" stroke-width="1"/><path d="M171.5 23.5h2.5M175 23.5h2.5M178.5 23.5h2.5M172.5 25.2h8" stroke="#6f88a2" stroke-width="0.8"/><rect x="201.5" y="17" width="9" height="9" rx="1" fill="none" stroke="#444" stroke-width="1.2"/><path d="M211 20.5L215 18v7l-4-2.5" fill="none" stroke="#444" stroke-width="1.1"/><circle cx="234.5" cy="21.8" r="1.6" fill="#8aa2ba"/><circle cx="240.5" cy="21.8" r="1.6" fill="#8aa2ba"/><circle cx="246.5" cy="21.8" r="1.6" fill="#8aa2ba"/></svg>
</body></html>
